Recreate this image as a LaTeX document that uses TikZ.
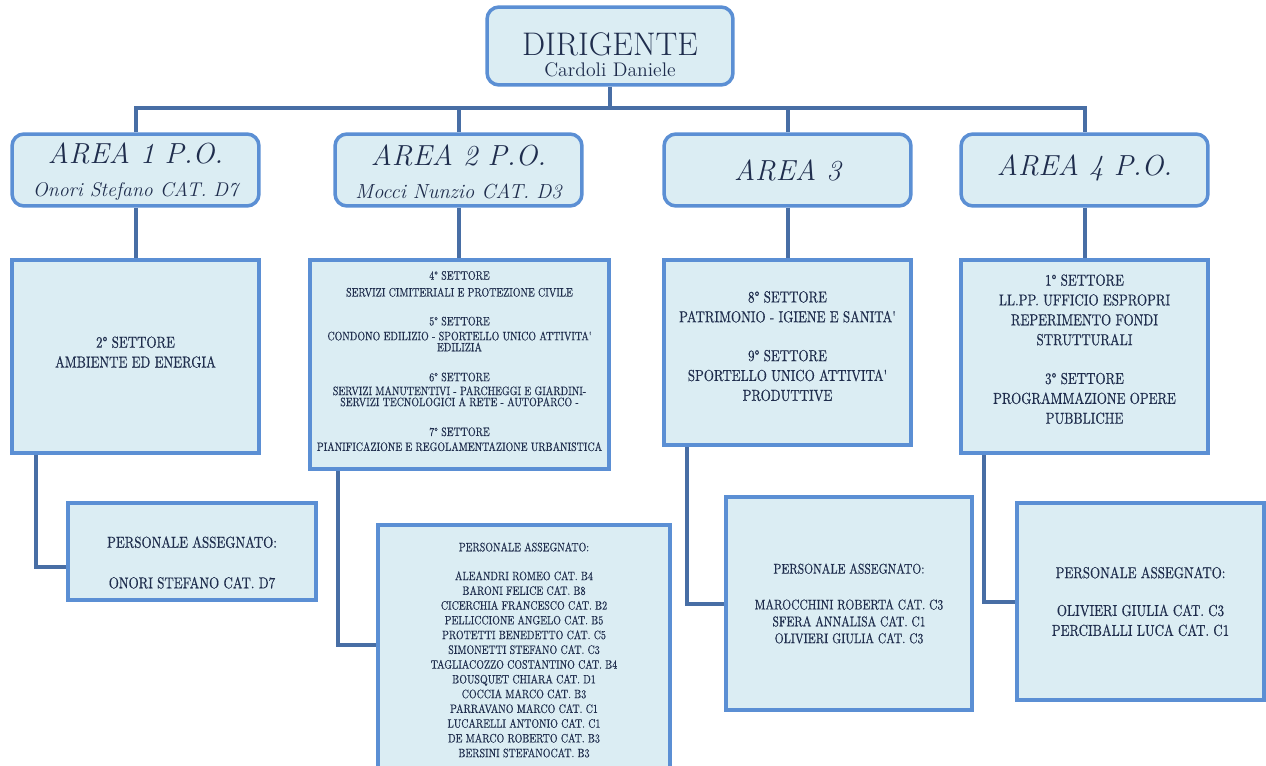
\documentclass[tikz,border=0pt]{standalone}
\usepackage{fontspec}
\newfontfamily\cond[FakeStretch=0.82,FakeBold=0.4]{lmroman10-regular.otf}
\usetikzlibrary{backgrounds,calc}
\definecolor{boxfill}{RGB}{219,237,243}
\definecolor{boxline}{RGB}{91,143,212}
\definecolor{connline}{RGB}{72,110,165}
\definecolor{txt}{RGB}{31,45,77}
\tikzset{
  rbox/.style={draw=boxline, fill=boxfill, line width=0.07cm, rounded corners=0.24cm,
    text=txt, align=center, inner sep=0pt, minimum width=4.94cm, minimum height=1.44cm},
  sbox/.style={draw=boxline, fill=boxfill, line width=0.08cm, text=txt, align=center, inner sep=0pt},
  conn/.style={draw=connline, line width=0.08cm},
  areafont/.style={font=\fontsize{16.5}{19}\selectfont\itshape},
  settfont/.style={font=\cond\fontsize{9}{11.3}\selectfont},
  persfont/.style={font=\cond\fontsize{9}{11.3}\selectfont}
}
\begin{document}
\begin{tikzpicture}[x=0.02cm,y=-0.02cm]
\useasboundingbox (0,0) rectangle (1266,766);
\clip (0,0) rectangle (1266,766);

% top
\node[rbox, minimum width=4.92cm, minimum height=1.56cm, font=\fontsize{11.2}{12.5}\selectfont] (dir) at (610,46)
  {\rule{0pt}{23pt}{\fontsize{18.6}{20}\selectfont DIRIGENTE}\\Cardoli Daniele};

% areas
\node[rbox, font=\fontsize{11.3}{19}\selectfont\itshape] (a1) at (135.5,170)
  {\rule{0pt}{14pt}{\fontsize{16.5}{19}\selectfont AREA 1 P.O.}\\Onori Stefano CAT. D7};
\node[rbox, font=\fontsize{11.6}{19}\selectfont\itshape] (a2) at (458.5,170)
  {\rule{0pt}{14pt}{\fontsize{16.5}{19}\selectfont AREA 2 P.O.}\\Mocci Nunzio CAT. D3};
\node[rbox, areafont] (a3) at (787.5,170) {AREA 3};
\node[rbox, areafont] (a4) at (1084.5,170) {AREA 4 P.O.\\[-13.5pt]};

% settori
\node[sbox, settfont, minimum width=4.94cm, minimum height=3.86cm] (s1) at (135.5,356.5)
  {2° SETTORE\\AMBIENTE ED ENERGIA\\[-6.2pt]};
\node[sbox, font=\cond\fontsize{6.9}{6.3}\selectfont, minimum width=5.98cm, minimum height=4.18cm] (s2) at (459.5,364.5)
  {4° SETTORE\\[3.3pt]
   SERVIZI CIMITERIALI E PROTEZIONE CIVILE\\[10.1pt]
   5° SETTORE\\[2.2pt]
   CONDONO EDILIZIO - SPORTELLO UNICO ATTIVITA'\\
   EDILIZIA\\[10.7pt]
   6° SETTORE\\[1.6pt]
   SERVIZI MANUTENTIVI - PARCHEGGI E GIARDINI-\\
   SERVIZI TECNOLOGICI A RETE - AUTOPARCO -\\[10.7pt]
   7° SETTORE\\[2.2pt]
   PIANIFICAZIONE E REGOLAMENTAZIONE URBANISTICA\\[-2.3pt]};
\node[sbox, settfont, minimum width=4.94cm, minimum height=3.70cm] (s3) at (787.5,352.5)
  {8° SETTORE\\PATRIMONIO - IGIENE E SANITA'\\[10.8pt]
   9° SETTORE\\SPORTELLO UNICO ATTIVITA'\\PRODUTTIVE\\[-3.9pt]};
\node[sbox, settfont, minimum width=4.94cm, minimum height=3.86cm] (s4) at (1084.5,356.5)
  {1° SETTORE\\LL.PP. UFFICIO ESPROPRI\\REPERIMENTO FONDI\\STRUTTURALI\\[10.8pt]
   3° SETTORE\\PROGRAMMAZIONE OPERE\\PUBBLICHE\\[-2.8pt]};

% personale
\node[sbox, persfont, minimum width=4.96cm, minimum height=1.94cm] (p1) at (192,551.5)
  {\rule{0pt}{19pt}PERSONALE ASSEGNATO:\\[11.8pt]ONORI STEFANO CAT. D7};
\node[sbox, font=\cond\fontsize{6.9}{8.4}\selectfont, minimum width=5.84cm, minimum height=5.0cm] (p2) at (524,650)
  {PERSONALE ASSEGNATO:\\[8pt]
   ALEANDRI ROMEO CAT. B4\\
   BARONI FELICE CAT. B8\\
   CICERCHIA FRANCESCO CAT. B2\\
   PELLICCIONE ANGELO CAT. B5\\
   PROTETTI BENEDETTO CAT. C5\\
   SIMONETTI STEFANO CAT. C3\\
   TAGLIACOZZO COSTANTINO CAT. B4\\
   BOUSQUET CHIARA CAT. D1\\
   COCCIA MARCO CAT. B3\\
   PARRAVANO MARCO CAT. C1\\
   LUCARELLI ANTONIO CAT. C1\\
   DE MARCO ROBERTO CAT. B3\\
   BERSINI STEFANOCAT. B3};
\node[sbox, font=\cond\fontsize{8}{9.6}\selectfont, minimum width=4.92cm, minimum height=4.26cm] (p3) at (849,603.5)
  {PERSONALE ASSEGNATO:\\[10.8pt]
   MAROCCHINI ROBERTA CAT. C3\\SFERA ANNALISA CAT. C1\\OLIVIERI GIULIA CAT. C3};
\node[sbox, persfont, minimum width=4.94cm, minimum height=3.94cm] (p4) at (1140.5,601.5)
  {PERSONALE ASSEGNATO:\\[10.2pt]
   OLIVIERI GIULIA CAT. C3\\PERCIBALLI LUCA CAT. C1};

% connectors
\coordinate (bus) at (610,108);
\begin{scope}[on background layer]
  \fill[white] (0,0) rectangle (1266,766);
  \draw[conn] (a1.north) |- (a4.north |- bus) -- (a4.north);
  \draw[conn] (dir.south) -- (dir.south |- bus);
  \draw[conn] (a2.north) -- (a2.north |- bus);
  \draw[conn] (a3.north) -- (a3.north |- bus);
  \draw[conn] (a1.south) -- (a1.south |- s1.north);
  \draw[conn] (a2.south) -- (a2.south |- s2.north);
  \draw[conn] (a3.south) -- (a3.south |- s3.north);
  \draw[conn] (a4.south) -- (a4.south |- s4.north);
  \draw[conn] ($(s1.south west)+(26,0)$) |- ($(p1.west)+(0,15)$);
  \draw[conn] ($(s2.south west)+(30,0)$) |- ($(p2.west)+(0,-5)$);
  \draw[conn] ($(s3.south west)+(25,0)$) |- (p3.west);
  \draw[conn] ($(s4.south west)+(25,0)$) |- (p4.west);
\end{scope}
\end{tikzpicture}
\end{document}
